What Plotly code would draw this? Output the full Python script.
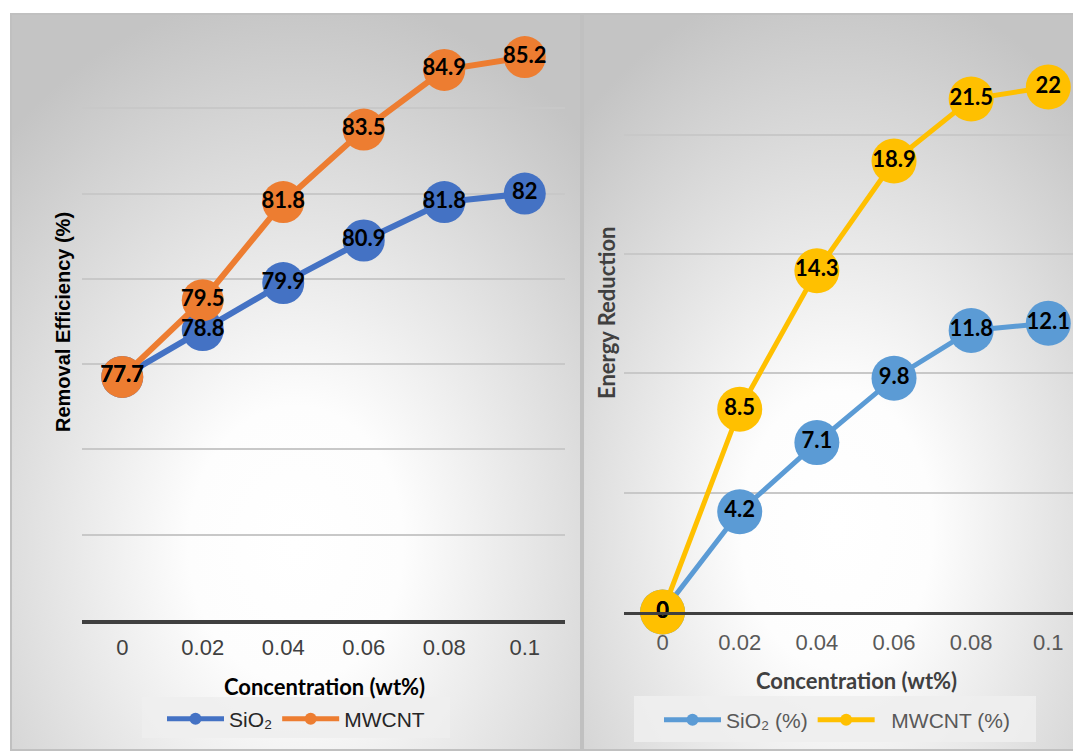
import base64
import plotly.graph_objects as go

# Concentration categories (wt%)
concentrations = ["0", "0.02", "0.04", "0.06", "0.08", "0.1"]

# Removal efficiency (%)
sio2_removal = [77.7, 78.8, 79.9, 80.9, 81.8, 82]
mwcnt_removal = [77.7, 79.5, 81.8, 83.5, 84.9, 85.2]

# Energy reduction (%)
sio2_energy = [0, 4.2, 7.1, 9.8, 11.8, 12.1]
mwcnt_energy = [0, 8.5, 14.3, 18.9, 21.5, 22]

W, H = 1073, 751


def px_x(v):
    return v / W


def px_y(v):
    return 1 - v / H


def gradient_panel(w, h, cx, cy, r):
    svg = (
        f'<svg xmlns="http://www.w3.org/2000/svg" width="{w}" height="{h}" '
        f'viewBox="0 0 {w} {h}" preserveAspectRatio="none">'
        f'<defs><radialGradient id="g" cx="{cx}" cy="{cy}" r="{r}">'
        '<stop offset="0" stop-color="#ffffff"/>'
        '<stop offset="0.25" stop-color="#fdfdfd"/>'
        '<stop offset="1" stop-color="#c4c4c4"/>'
        '</radialGradient></defs>'
        f'<rect x="0" y="0" width="{w}" height="{h}" fill="url(#g)"/>'
        f'<rect x="1" y="1" width="{w - 2}" height="{h - 2}" fill="none" '
        'stroke="#c0c0c0" stroke-width="2"/>'
        '</svg>'
    )
    return "data:image/svg+xml;base64," + base64.b64encode(svg.encode()).decode()


fig = go.Figure()

label_font = dict(family="Lato, Carlito, sans-serif", size=22, color="#000000")

# Left panel: removal efficiency
fig.add_trace(go.Scatter(
    x=concentrations, y=sio2_removal, name="SiO₂", mode="lines+markers",
    line=dict(color="#4472C4", width=6), marker=dict(size=42, color="#4472C4"),
    xaxis="x", yaxis="y", legend="legend", cliponaxis=False, hoverinfo="skip"))
fig.add_trace(go.Scatter(
    x=concentrations, y=mwcnt_removal, name="MWCNT", mode="lines+markers",
    line=dict(color="#ED7D31", width=6), marker=dict(size=42, color="#ED7D31"),
    xaxis="x", yaxis="y", legend="legend", cliponaxis=False, hoverinfo="skip"))
for ys in (sio2_removal, mwcnt_removal):
    fig.add_trace(go.Scatter(
        x=concentrations, y=ys, mode="text", texttemplate="<b>%{y}</b>",
        textposition="middle center", textfont=label_font, showlegend=False,
        xaxis="x", yaxis="y", cliponaxis=False, hoverinfo="skip"))

# Right panel: energy reduction
fig.add_trace(go.Scatter(
    x=concentrations, y=sio2_energy, name="SiO₂ (%)", mode="lines+markers",
    line=dict(color="#5B9BD5", width=5), marker=dict(size=45, color="#5B9BD5"),
    xaxis="x2", yaxis="y2", legend="legend2", cliponaxis=False, hoverinfo="skip"))
fig.add_trace(go.Scatter(
    x=concentrations, y=mwcnt_energy, name="\u00a0\u00a0MWCNT (%)", mode="lines+markers",
    line=dict(color="#FFC000", width=5), marker=dict(size=45, color="#FFC000"),
    xaxis="x2", yaxis="y2", legend="legend2", cliponaxis=False, hoverinfo="skip"))
for ys in (sio2_energy, mwcnt_energy):
    fig.add_trace(go.Scatter(
        x=concentrations, y=ys, mode="text", texttemplate="<b>%{y}</b>",
        textposition="middle center", textfont=label_font, showlegend=False,
        xaxis="x2", yaxis="y2", cliponaxis=False, hoverinfo="skip"))

tick_font_l = dict(family="Liberation Sans, Arial, sans-serif", size=22, color="#404040")
tick_font_r = dict(family="Liberation Sans, Arial, sans-serif", size=22, color="#595959")

fig.update_layout(
    width=W, height=H,
    margin=dict(l=0, r=0, t=0, b=0),
    paper_bgcolor="#ffffff",
    plot_bgcolor="rgba(0,0,0,0)",
    xaxis=dict(
        domain=[px_x(82), px_x(565)], anchor="y", type="category",
        range=[-0.5, 5.5], showgrid=False, zeroline=False,
        showline=True, linecolor="#404040", linewidth=4,
        ticks="outside", ticklen=5, tickcolor="rgba(0,0,0,0)",
        tickfont=tick_font_l, fixedrange=True),
    yaxis=dict(
        domain=[px_y(620), px_y(23)], anchor="x", range=[72, 86],
        tick0=72, dtick=2, showticklabels=False, ticks="",
        showgrid=True, gridcolor="#c8c8c8", gridwidth=2, zeroline=False,
        fixedrange=True),
    xaxis2=dict(
        domain=[px_x(624), 1.0], anchor="y2", type="category",
        range=[-0.5, 5.32], showgrid=False, zeroline=False,
        showline=True, linecolor="#404040", linewidth=3,
        ticks="outside", ticklen=9, tickcolor="rgba(0,0,0,0)",
        tickfont=tick_font_r, fixedrange=True),
    yaxis2=dict(
        domain=[px_y(612), px_y(15.5)], anchor="x2", range=[0, 25],
        tick0=0, dtick=5, showticklabels=False, ticks="",
        showgrid=True, gridcolor="#c8c8c8", gridwidth=2, zeroline=False,
        fixedrange=True),
    legend=dict(
        orientation="h", x=px_x(296), y=px_y(719), xanchor="center", yanchor="middle",
        bgcolor="rgba(0,0,0,0)", borderwidth=0, itemwidth=57,
        font=dict(family="Liberation Sans, Arial, sans-serif", size=21, color="#262626"),
        itemsizing="constant"),
    legend2=dict(
        orientation="h", x=px_x(837), y=px_y(720), xanchor="center", yanchor="middle",
        bgcolor="rgba(0,0,0,0)", borderwidth=0, itemwidth=57,
        font=dict(family="Liberation Sans, Arial, sans-serif", size=21, color="#595959"),
        itemsizing="constant"),
    shapes=[
        dict(type="rect", xref="paper", yref="paper", layer="below",
             x0=px_x(142), x1=px_x(450), y0=px_y(738), y1=px_y(697),
             fillcolor="rgba(238,238,238,0.9)", line=dict(width=0)),
        dict(type="rect", xref="paper", yref="paper", layer="below",
             x0=px_x(634), x1=px_x(1036), y0=px_y(742), y1=px_y(696),
             fillcolor="rgba(238,238,238,0.9)", line=dict(width=0)),
    ],
    images=[
        dict(source=gradient_panel(572, 738, 0.5, 0.72, 0.75), xref="paper", yref="paper",
             x=px_x(10), y=px_y(13), sizex=572 / W, sizey=738 / H,
             xanchor="left", yanchor="top", sizing="stretch", layer="below"),
        dict(source=gradient_panel(510, 738, 0.5, 0.7, 0.75), xref="paper", yref="paper",
             x=px_x(582), y=px_y(13), sizex=510 / W, sizey=738 / H,
             xanchor="left", yanchor="top", sizing="stretch", layer="below"),
    ],
    annotations=[
        dict(text="<b>Concentration (wt%)</b>", xref="paper", yref="paper",
             x=px_x(324), y=px_y(686), xanchor="center", yanchor="middle", showarrow=False,
             font=dict(family="Lato, Carlito, sans-serif", size=22, color="#000000")),
        dict(text="<b>Concentration (wt%)</b>", xref="paper", yref="paper",
             x=px_x(856), y=px_y(680), xanchor="center", yanchor="middle", showarrow=False,
             font=dict(family="Lato, Carlito, sans-serif", size=22, color="#404040")),
        dict(text="<b>Removal Efficiency (%)</b>", xref="paper", yref="paper",
             x=px_x(63), y=px_y(322), xanchor="center", yanchor="middle", showarrow=False,
             textangle=-90,
             font=dict(family="Liberation Sans, Arial, sans-serif", size=20, color="#000000")),
        dict(text="<b>Energy Reduction</b>", xref="paper", yref="paper",
             x=px_x(606), y=px_y(313), xanchor="center", yanchor="middle", showarrow=False,
             textangle=-90,
             font=dict(family="Lato, Carlito, sans-serif", size=22, color="#404040")),
    ],
)

fig.write_html("out.html", config=dict(displayModeBar=False))
